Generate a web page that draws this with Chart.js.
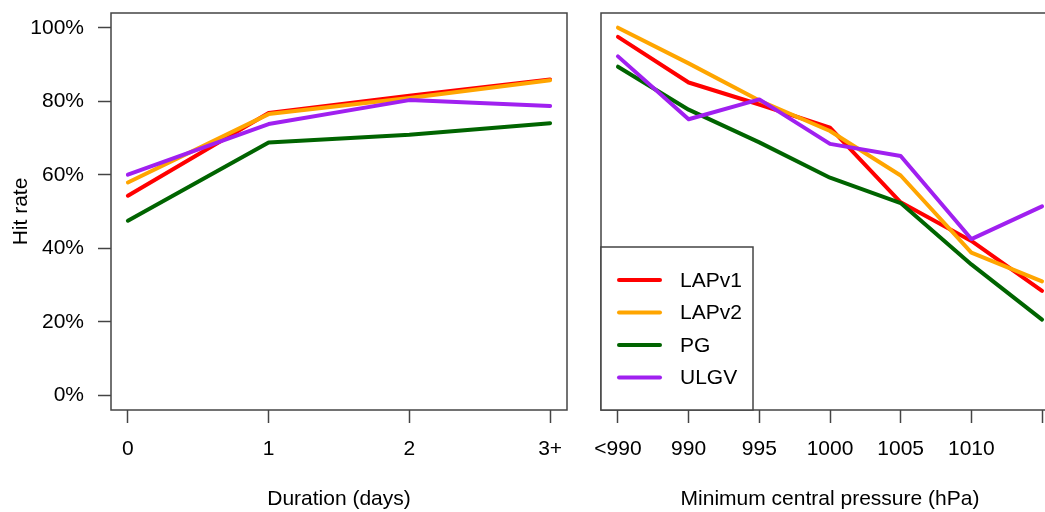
<!DOCTYPE html>
<html>
<head>
<meta charset="utf-8">
<script src="https://cdn.jsdelivr.net/npm/chart.js@4"></script>
<style>
  html, body { margin: 0; padding: 0; background: #fff; overflow: hidden; width: 1045px; height: 512px; }
  #wrap { position: relative; width: 1045px; height: 512px; overflow: hidden; }
  #c1 { position: absolute; left: 0; top: 0; }
  #c2 { position: absolute; left: 580px; top: 0; }
</style>
</head>
<body>
<div id="wrap">
  <canvas id="c1" width="580" height="512"></canvas>
  <canvas id="c2" width="520" height="512"></canvas>
</div>
<script>
// ---- data ----
const seriesNames = ['LAPv1', 'LAPv2', 'PG', 'ULGV'];
const seriesColors = ['#FF0000', '#FFA500', '#006400', '#A020F0'];

const durationLabels = ['0', '1', '2', '3+'];
const durLAPv1 = [54.3, 76.8, 81.5, 85.9];
const durLAPv2 = [57.9, 76.5, 80.9, 85.7];
const durPG    = [47.5, 68.8, 70.9, 74.0];
const durULGV  = [60.0, 73.8, 80.3, 78.7];

const pressureLabels = ['<990', '990', '995', '1000', '1005', '1010', ''];
const presLAPv1 = [97.5, 85.1, 79.1, 72.8, 52.5, 42.0, 28.4];
const presLAPv2 = [100.0, 90.3, 80.2, 71.9, 59.8, 38.8, 31.0];
const presPG    = [89.4, 77.7, 68.8, 59.2, 52.3, 35.6, 20.6];
const presULGV  = [92.2, 75.1, 80.5, 68.4, 65.1, 42.5, 51.4];

const yTickValues = [0, 20, 40, 60, 80, 100];

// ---- helpers ----
const FONT = "'Liberation Sans', Arial, Helvetica, sans-serif";
const FSIZE = 21;
const AXIS_COLOR = '#444444';
const LINE_W = 4;

function makeDatasets(arrs) {
  return arrs.map((vals, i) => ({
    label: seriesNames[i],
    data: vals.map((v, k) => ({ x: k, y: v })),
    borderColor: seriesColors[i],
    backgroundColor: seriesColors[i],
    borderWidth: LINE_W,
    borderCapStyle: 'round',
    borderJoinStyle: 'round',
    pointRadius: 0,
    tension: 0,
    fill: false,
    order: arrs.length - i
  }));
}

const framePlugin = {
  id: 'frame',
  beforeDatasetsDraw(chart) {
    const { left, top, right, bottom } = chart.chartArea;
    const ctx = chart.ctx;
    ctx.save();
    ctx.strokeStyle = AXIS_COLOR;
    ctx.lineWidth = 1.5;
    ctx.strokeRect(left, top, right - left, bottom - top);
    ctx.restore();
  }
};

const boxLegendPlugin = {
  id: 'boxLegend',
  afterDraw(chart) {
    const ctx = chart.ctx;
    const { left, bottom } = chart.chartArea;
    const w = 152, h = 163;
    const x0 = left, y0 = bottom - h;
    ctx.save();
    ctx.fillStyle = '#fff';
    ctx.fillRect(x0, y0, w, h);
    ctx.strokeStyle = AXIS_COLOR;
    ctx.lineWidth = 1.5;
    ctx.strokeRect(x0, y0, w, h);
    ctx.font = FSIZE + 'px ' + FONT;
    ctx.textBaseline = 'middle';
    ctx.textAlign = 'left';
    chart.data.datasets.forEach((ds, i) => {
      const y = y0 + 33 + i * 32.5;
      ctx.strokeStyle = ds.borderColor;
      ctx.lineWidth = LINE_W;
      ctx.lineCap = 'round';
      ctx.beginPath();
      ctx.moveTo(x0 + 18, y);
      ctx.lineTo(x0 + 59, y);
      ctx.stroke();
      ctx.fillStyle = '#000';
      ctx.fillText(ds.label, x0 + 79, y + 1);
    });
    ctx.restore();
  }
};

function xScale(labels, title) {
  const n = labels.length - 1;
  const pad = 0.04 * n;
  return {
    type: 'linear',
    min: -pad,
    max: n + pad,
    afterBuildTicks: (s) => { s.ticks = labels.map((_, i) => ({ value: i })); },
    afterFit: (s) => { s.height = 102; s.paddingLeft = 0; s.paddingRight = 0; },
    ticks: {
      autoSkip: false,
      maxRotation: 0,
      padding: 14,
      color: '#000',
      font: { family: FONT, size: FSIZE },
      callback: (v) => labels[v]
    },
    grid: {
      drawOnChartArea: false,
      drawTicks: true,
      tickLength: 13,
      tickWidth: 1.5,
      tickColor: AXIS_COLOR
    },
    border: { display: false },
    title: {
      display: true,
      text: title,
      color: '#000',
      font: { family: FONT, size: FSIZE },
      padding: { top: 0, bottom: 0 }
    }
  };
}

const yBase = {
  min: -4,
  max: 104,
  afterBuildTicks: (s) => { s.ticks = yTickValues.map(v => ({ value: v })); },
};

// ---- left chart ----
new Chart(document.getElementById('c1'), {
  type: 'line',
  data: { datasets: makeDatasets([durLAPv1, durLAPv2, durPG, durULGV]) },
  options: {
    responsive: false,
    animation: false,
    devicePixelRatio: 1,
    layout: { padding: { left: 0, top: 13, right: 13, bottom: 0 } },
    plugins: { legend: { display: false }, tooltip: { enabled: false } },
    scales: {
      x: xScale(durationLabels, 'Duration (days)'),
      y: Object.assign({}, yBase, {
        afterFit: (s) => { s.width = 111; s.paddingTop = 0; s.paddingBottom = 0; },
        ticks: {
          padding: 14,
          color: '#000',
          font: { family: FONT, size: FSIZE },
          callback: (v) => v + '%'
        },
        grid: {
          drawOnChartArea: false,
          drawTicks: true,
          tickLength: 13,
          tickWidth: 1.5,
          tickColor: AXIS_COLOR
        },
        border: { display: false },
        title: {
          display: true,
          text: 'Hit rate',
          color: '#000',
          font: { family: FONT, size: FSIZE },
          padding: { top: 9, bottom: 0 }
        }
      })
    }
  },
  plugins: [framePlugin]
});

// ---- right chart ----
new Chart(document.getElementById('c2'), {
  type: 'line',
  data: { datasets: makeDatasets([presLAPv1, presLAPv2, presPG, presULGV]) },
  options: {
    responsive: false,
    animation: false,
    devicePixelRatio: 1,
    layout: { padding: { left: 21, top: 13, right: 41, bottom: 0 } },
    plugins: { legend: { display: false }, tooltip: { enabled: false } },
    scales: {
      x: xScale(pressureLabels, 'Minimum central pressure (hPa)'),
      y: Object.assign({}, yBase, { display: false })
    }
  },
  plugins: [framePlugin, boxLegendPlugin]
});
</script>
</body>
</html>
